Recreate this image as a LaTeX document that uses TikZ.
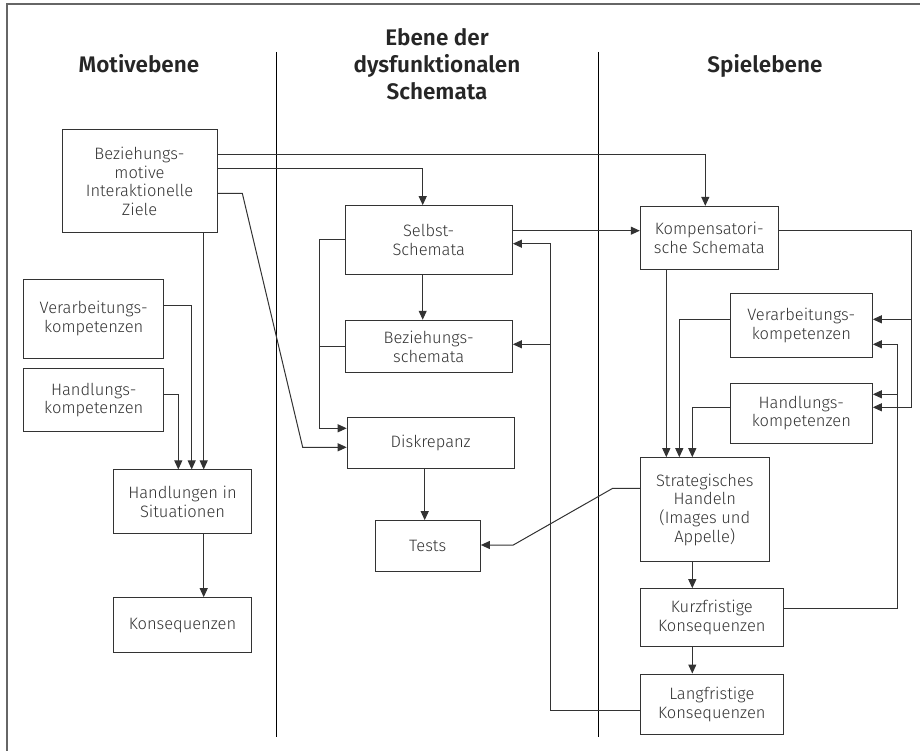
\documentclass[tikz,border=0pt]{standalone}
\usepackage{fontspec}
\setmainfont{Fira Sans}[UprightFont={* Light}, BoldFont={* SemiBold}]
\usetikzlibrary{positioning,arrows.meta}

\definecolor{linec}{HTML}{333333}
\definecolor{textc}{HTML}{333333}

\tikzset{
  box/.style={draw=linec, line width=1pt, align=center, inner sep=2pt,
    text=textc, font=\fontsize{16.5}{18.7}\selectfont},
  heading/.style={align=center, text=black!85, font=\bfseries\fontsize{22.5}{27}\selectfont},
  arr/.style={draw=linec, line width=1pt, -{Triangle[length=9pt,width=8pt]}},
  conn/.style={draw=linec, line width=1pt},
}

\begin{document}
\begin{tikzpicture}[x=1pt, y=-1pt]

    \useasboundingbox (0,0) rectangle (920,751);

    % Frame and columns
    \draw[gray!80!black, line width=1.5pt] (920,4) -- (7,4) -- (7,751);
    \draw[line width=0.8pt] (276,52) -- (276,737);
    \draw[line width=0.8pt] (598,52) -- (598,737);

    % Headings
    \node[heading, anchor=base] (motiv)  at (139,72.7) {Motivebene};
    \node[heading, anchor=base] (schema) at (437,100) {Ebene der\\dysfunktionalen\\Schemata};
    \node[heading, anchor=base] (spiel)  at (765,72.7) {Spielebene};

    % Define nodes
    \node[box, minimum width=155pt, minimum height=103pt] (bm) at (139.5,181.5)
         {Beziehungs-\\motive\\Interaktionelle\\Ziele};
    \node[box, minimum width=140pt, minimum height=79pt] (verL) at (93.7,318.8)
         {Verarbeitungs-\\kompetenzen};
    \node[box, minimum width=140pt, minimum height=63pt, below=9.4pt of verL] (hanL)
         {Handlungs-\\kompetenzen};
    \node[box, minimum width=137.6pt, minimum height=63.7pt] (hsit) at (182.5,501.8)
         {Handlungen in\\Situationen};
    \node[box, minimum width=137.6pt, minimum height=55pt, below=63pt of hsit] (kons)
         {Konsequenzen};

    \node[box, minimum width=167.3pt, minimum height=69.3pt] (selbst) at (428.7,240.3)
         {Selbst-\\Schemata};
    \node[box, minimum width=167.3pt, minimum height=52.7pt, below=44.3pt of selbst] (bez)
         {Beziehungs-\\schemata};
    \node[box, minimum width=167pt, minimum height=51pt, below=43.7pt of bez, xshift=2pt] (disk)
         {Diskrepanz};
    \node[box, minimum width=105.3pt, minimum height=50.6pt, below=51pt of disk, xshift=-3pt] (tests)
         {Tests};

    \node[box, minimum width=138pt, minimum height=62.7pt] (komp) at (709.3,237.7)
         {Kompensatori-\\sche Schemata};
    \node[box, minimum width=142pt, minimum height=63.6pt] (verR) at (801.3,325.5)
         {Verarbeitungs-\\kompetenzen};
    \node[box, minimum width=142pt, minimum height=59.7pt, below=25pt of verR] (hanR)
         {Handlungs-\\kompetenzen};
    \node[box, minimum width=129pt, minimum height=104pt] (strat) at (704.8,509.7)
         {Strategisches\\Handeln\\(Images und\\Appelle)};
    \node[box, minimum width=143pt, minimum height=57.3pt,
          below=26pt of strat.south west, anchor=north west] (kurz)
         {Kurzfristige\\Konsequenzen};
    \node[box, minimum width=143pt, minimum height=60.7pt, below=27pt of kurz] (lang)
         {Langfristige\\Konsequenzen};

    % Connect the nodes
    \draw[arr] (bm.east |- 0,155) -| ([xshift=-4pt]komp.north);
    \draw[arr] (bm.east |- 0,168.3) -| ([xshift=-6pt]selbst.north);
    \draw[arr] (bm.east |- 0,193.3) -- (242.3,193.3) -- (302.7,447.3) -- (disk.west |- 0,447.3);
    \draw[arr] (bm.south -| 203.7,0) -- (hsit.north -| 203.7,0);
    \draw[arr] (verL.east |- 0,305.7) -| (hsit.north -| 191.7,0);
    \draw[arr] (hanL.east |- 0,394.3) -| (hsit.north -| 178.3,0);
    \draw[arr] (hsit.south -| 203.7,0) -- (kons.north -| 203.7,0);

    \draw[arr] (selbst.west |- 0,239.3) -| (319.3,428.3) -- (disk.west |- 0,428.3);
    \draw[conn] (bez.west) -- (319.3,0 |- bez.west);
    \draw[arr] (selbst.south -| 422.7,0) -- (bez.north -| 422.7,0);
    \draw[arr] (disk.south -| 424.7,0) -- (tests.north -| 424.7,0);
    \draw[arr] (selbst.east |- 0,230.7) -- (komp.west |- 0,230.7);
    \draw[arr] (lang.west |- 0,710) -| (550.7,243.7) -- (selbst.east |- 0,243.7);
    \draw[arr] (550.7,344.3) -- (bez.east |- 0,344.3);

    \draw[arr] (strat.west |- 0,488.3) -- (612.7,488.3) -- (513.3,545) -- (tests.east |- 0,545);
    \draw[arr] (komp.south -| 666.3,0) -- (strat.north -| 666.3,0);
    \draw[arr] (verR.west |- 0,319.3) -| (strat.north -| 679.3,0);
    \draw[arr] (hanR.west |- 0,407.3) -| (strat.north -| 692.3,0);
    \draw[arr] (komp.east |- 0,230.7) -| (911.7,407.3) -- (hanR.east |- 0,407.3);
    \draw[arr] (911.7,319.3) -- (verR.east |- 0,319.3);
    \draw[arr] (kurz.east |- 0,608.7) -| (897.7,344.3) -- (verR.east |- 0,344.3);
    \draw[arr] (897.7,394.3) -- (hanR.east |- 0,394.3);
    \draw[arr] (strat.south -| 692.3,0) -- (kurz.north -| 692.3,0);
    \draw[arr] (kurz.south -| 692.3,0) -- (lang.north -| 692.3,0);

\end{tikzpicture}
\end{document}
